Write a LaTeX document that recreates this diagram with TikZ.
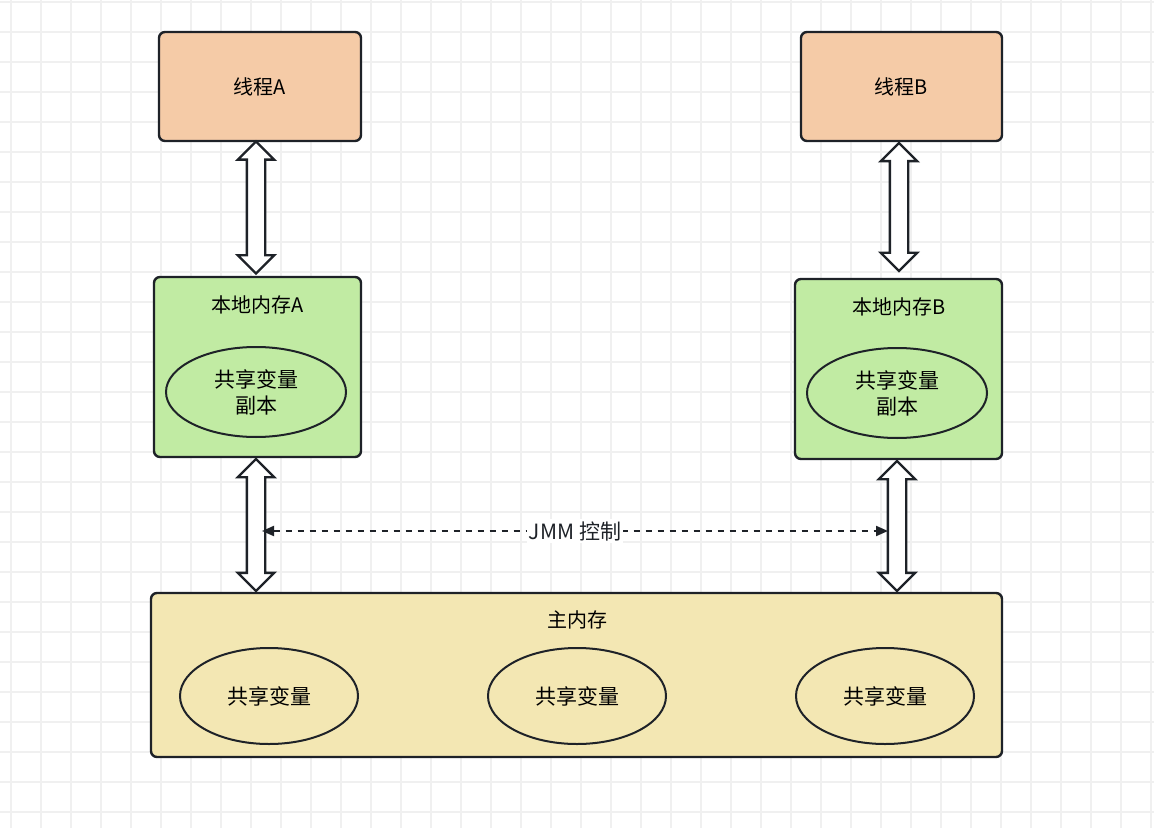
\documentclass[tikz,border=0pt]{standalone}
\usepackage{fontspec}
\setmainfont{Noto Sans CJK SC}
\usetikzlibrary{shapes.geometric,shapes.arrows,arrows.meta,calc}
\definecolor{threadfill}{HTML}{F5CBA7}
\definecolor{localfill}{HTML}{C1EBA3}
\definecolor{mainfill}{HTML}{F3E7B3}
\definecolor{edge}{HTML}{1E2228}
\tikzset{
  box/.style={draw=edge,line width=1.2pt,rounded corners=3pt,font=\fontsize{10.5}{12}\selectfont},
  var/.style={draw=edge,line width=1pt,ellipse,align=center,inner sep=0pt,font=\fontsize{10.5}{13}\selectfont},
  bigarrow/.style={draw=edge,fill=white,line width=1.2pt,double arrow,rotate=90,
    minimum width=13pt,inner sep=4pt,double arrow head extend=4.5pt},
  gridline/.style={gray!12,line width=0.6pt}
}
\begin{document}
\begin{tikzpicture}[x=0.5pt,y=-0.5pt]
	\useasboundingbox (0,0) rectangle (1154,828);
	\fill[white] (0,0) rectangle (1154,828);
	\foreach \x in {11,41,...,1154} \draw[gridline] (\x,0) -- (\x,828); %columns
	\foreach \y in {2,32,...,828} \draw[gridline] (0,\y) -- (1154,\y); %rows

	% threads
	\draw[box,fill=threadfill] (159,32) rectangle (361,141);
	\node (ta) at (260,87) {线程A};
	\draw[box,fill=threadfill] (801,32) rectangle (1002,141);
	\node (tb) at (901,87) {线程B};

	% local memory
	\draw[box,fill=localfill] (154,277) rectangle (361,457);
	\node (la) at (258,305) {本地内存A};
	\node[var,minimum width=90pt,minimum height=45pt] (va) at (256,392) {共享变量\\副本};
	\draw[box,fill=localfill] (795,279) rectangle (1002,459);
	\node (lb) at (899,307) {本地内存B};
	\node[var,minimum width=90pt,minimum height=45pt] (vb) at (897,393) {共享变量\\副本};

	% main memory
	\draw[box,fill=mainfill] (151,593) rectangle (1002,757);
	\node (mm) at (577,620) {主内存};
	\node[var,minimum width=89pt,minimum height=48pt] (v1) at (269,696) {共享变量};
	\node[var,minimum width=89pt,minimum height=48pt] (v2) at (577,696) {共享变量};
	\node[var,minimum width=89pt,minimum height=48pt] (v3) at (885,696) {共享变量};

	% block arrows
	\node[bigarrow,minimum height=66pt] (a1) at (256,207.5) {};
	\node[bigarrow,minimum height=64pt] (a2) at (899,207) {};
	\node[bigarrow,minimum height=66pt] (a3) at (256,525) {};
	\node[bigarrow,minimum height=65pt] (a4) at (897,526) {};

	\coordinate (jl) at (262,531);
	\coordinate (jr) at (888,531);
	\draw[edge,line width=1pt,dashed,{Triangle[length=6pt,width=5pt]}-{Triangle[length=6pt,width=5pt]}] (jl) -- (jr)
		node[midway,fill=white,inner sep=1pt,font=\fontsize{10.5}{12}\selectfont] (jmm) {JMM 控制};
\end{tikzpicture}
\end{document}
